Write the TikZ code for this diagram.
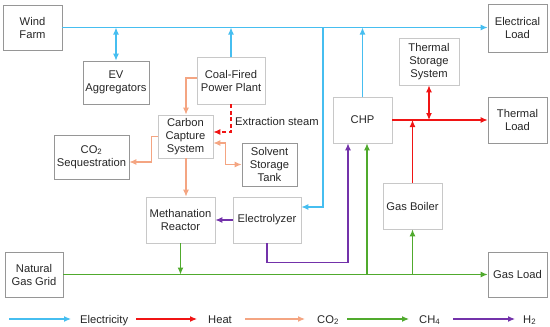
\documentclass[tikz,border=0pt]{standalone}
\usepackage{fontspec}
\setmainfont{Liberation Sans}
\usetikzlibrary{arrows.meta}
\definecolor{celec}{RGB}{70,190,240}
\definecolor{cheat}{RGB}{240,20,20}
\definecolor{cco}{RGB}{244,165,130}
\definecolor{cch}{RGB}{80,170,45}
\definecolor{chh}{RGB}{115,50,170}
\definecolor{bdark}{RGB}{150,150,150}
\definecolor{blight}{RGB}{200,200,200}
\begin{document}
\begin{tikzpicture}[x=1pt,y=-1pt,
  font=\fontsize{11.2}{13}\selectfont,
  box/.style={draw=bdark,line width=0.8pt,align=center,inner sep=1pt,text=black!85},
  lbox/.style={box,draw=blight},
  flow/.style={line width=1.1pt,-{Latex[length=7pt,width=6pt]}},
  bflow/.style={line width=1.1pt,{Latex[length=7pt,width=6pt]}-{Latex[length=7pt,width=6pt]}},
  el/.style={draw=celec},
  ht/.style={draw=cheat},
  co/.style={draw=cco},
  ch/.style={draw=cch},
  hh/.style={draw=chh},
  leg/.style={anchor=base west,inner sep=0pt,text=black!85}]
\useasboundingbox (0,0) rectangle (550,327);
% boxes
\node[box,minimum width=59,minimum height=45] (wind) at (32.5,27.5) {Wind\\Farm};
\node[box,minimum width=66,minimum height=43] (ev) at (116,82.5) {EV\\Aggregators};
\node[lbox,minimum width=68,minimum height=47] (coal) at (231,80.5) {Coal-Fired\\Power Plant};
\node[box,minimum width=59,minimum height=48] (eload) at (517.5,28) {Electrical\\Load};
\node[lbox,minimum width=60,minimum height=47] (tss) at (429,61.5) {Thermal\\Storage\\System};
\node[box,minimum width=59,minimum height=46] (tload) at (517.5,120) {Thermal\\Load};
\node[lbox,minimum width=59,minimum height=46] (chp) at (362.5,120) {CHP};
\node[lbox,minimum width=55,minimum height=43] (ccs) at (185.5,136.5) {Carbon\\Capture\\System};
\node[box,minimum width=75,minimum height=44] (seq) at (91.5,157) {CO\textsubscript{2}\\Sequestration};
\node[box,minimum width=55,minimum height=43] (sst) at (269.5,164.5) {Solvent\\Storage\\Tank};
\node[lbox,minimum width=69,minimum height=46] (meth) at (180.5,220) {Methanation\\Reactor};
\node[lbox,minimum width=68,minimum height=46] (elz) at (267,220) {Electrolyzer};
\node[lbox,minimum width=59,minimum height=46] (gb) at (412.5,206) {Gas Boiler};
\node[box,minimum width=58,minimum height=45] (ngg) at (34,274.5) {Natural\\Gas Grid};
\node[box,minimum width=59,minimum height=45] (gload) at (517.5,274.5) {Gas Load};
% electricity
\draw[flow,el] (wind.east) -- (wind.east -| eload.west);
\draw[bflow,el] (ev.north) -- (ev.north |- wind.east);
\draw[flow,el] (coal.north) -- (coal.north |- wind.east);
\draw[flow,el] (chp.north) -- (chp.north |- wind.east);
\coordinate (b1) at (323,27.5);
\draw[flow,el] (b1) |- ([yshift=13pt]elz.east);
% heat
\draw[flow,ht] (chp.east) -- (tload.west);
\draw[bflow,ht] (tss.south) -- (tss.south |- chp.east);
\draw[flow,ht] (gb.north) -- (gb.north |- chp.east);
\draw[flow,ht,dash pattern=on 4pt off 2.5pt] (coal.south) |- ([yshift=4.5pt]ccs.east);
\node[anchor=west,inner sep=0pt,text=black!85] (xs) at (235,121) {Extraction steam};
% CO2
\draw[flow,co] ([yshift=2.5pt]coal.west) -| ([xshift=0.5pt]ccs.north);
\draw[flow,co] (ccs.west) -- ++(-6,0) |- ([yshift=-5pt]seq.east);
\draw[bflow,co] ([yshift=-6.5pt]ccs.east) -- ++(12,0) |- (sst.west);
\draw[flow,co] ([xshift=0.5pt]ccs.south) -- ([xshift=0.5pt]ccs.south |- meth.north);
% H2
\draw[flow,hh] (elz.west) -- (meth.east);
\draw[flow,hh] (elz.south) -- ++(0,19) -| ([xshift=-14.5pt]chp.south);
% CH4
\draw[flow,ch] (ngg.east) -- (gload.west);
\draw[flow,ch] (meth.south) -- (meth.south |- ngg.east);
\draw[flow,ch] ([xshift=4.5pt]chp.south |- ngg.east) -- ([xshift=4.5pt]chp.south);
\draw[flow,ch] (gb.south |- ngg.east) -- (gb.south);
% legend
\coordinate (l1a) at (9,319); \coordinate (l1b) at (71,319);
\coordinate (l2a) at (136,319); \coordinate (l2b) at (197,319);
\coordinate (l3a) at (245,319); \coordinate (l3b) at (305,319);
\coordinate (l4a) at (347,319); \coordinate (l4b) at (409,319);
\coordinate (l5a) at (453,319); \coordinate (l5b) at (515,319);
\draw[flow,el] (l1a) -- (l1b);
\draw[flow,ht] (l2a) -- (l2b);
\draw[flow,co] (l3a) -- (l3b);
\draw[flow,ch] (l4a) -- (l4b);
\draw[flow,hh] (l5a) -- (l5b);
\node[leg] (t1) at (80,323) {Electricity};
\node[leg] (t2) at (208,323) {Heat};
\node[leg] (t3) at (317,323) {CO\textsubscript{2}};
\node[leg] (t4) at (419,323) {CH\textsubscript{4}};
\node[leg] (t5) at (523,323) {H\textsubscript{2}};
\end{tikzpicture}
\end{document}
